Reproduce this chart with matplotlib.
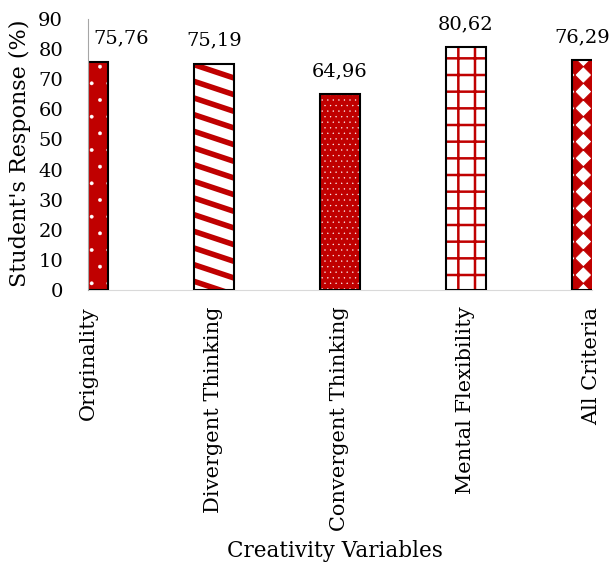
import matplotlib.pyplot as plt
import matplotlib.hatch as mhatch
from matplotlib.path import Path
import numpy as np

# creativity criteria and mean student response (%)
categories = ["Originality", "Divergent Thinking", "Convergent Thinking",
              "Mental Flexibility", "All Criteria"]
values = [75.76, 75.19, 64.96, 80.62, 76.29]
labels = ["75,76", "75,19", "64,96", "80,62", "76,29"]

red = "#c00000"
plt.rcParams['font.family'] = ['DejaVu Serif']


# shallow diagonal stripes, 'z' in the hatch string
class ShallowStripes(mhatch.HatchPatternBase):
    def __init__(self, hatch, density):
        self.n = hatch.count('z') * density
        self.num_lines = self.n + 3 if self.n else 0
        self.num_vertices = self.num_lines * 2

    def set_vertices_and_codes(self, vertices, codes):
        k = 0
        for i in range(self.num_lines):
            vertices[k] = (0.0, i / self.n)
            vertices[k + 1] = (1.0, (i - 2) / self.n)
            codes[k] = Path.MOVETO
            codes[k + 1] = Path.LINETO
            k += 2


# filled diamonds on a rotated checker, 'd' in the hatch string
class Diamonds(mhatch.HatchPatternBase):
    def __init__(self, hatch, density):
        self.n = hatch.count('d') * density
        self.num_shapes = self.n * (self.n + 1) if self.n else 0
        self.num_vertices = self.num_shapes * 5

    def set_vertices_and_codes(self, vertices, codes):
        h = 0.5 / self.n
        k = 0
        for i in range(self.n):
            for j in range(self.n + 1):
                cx, cy = (i + 0.5) / self.n, j / self.n
                pts = [(cx - h, cy), (cx, cy - h), (cx + h, cy), (cx, cy + h), (cx - h, cy)]
                vertices[k:k + 5] = pts
                codes[k:k + 5] = [Path.MOVETO, Path.LINETO, Path.LINETO, Path.LINETO, Path.CLOSEPOLY]
                k += 5


mhatch._hatch_types.extend([ShallowStripes, Diamonds])

fig = plt.figure(figsize=(6.13, 5.7), dpi=100)
ax = fig.add_axes([0.1436, 0.4912, 0.822, 0.4755])

x = np.arange(len(categories))
w = 0.32

# (facecolor, hatch colour, hatch, hatch linewidth)
styles = [
    (red, "white", ".", 0.3),
    ("white", red, "z", 4.0),
    (red, "white", "...", 0.2),
    ("white", red, "+", 1.8),
    ("white", red, "d", 0.5),
]

for xi, v, (fc, hc, h, lw) in zip(x, values, styles):
    with plt.rc_context({'hatch.linewidth': lw}):
        b = ax.bar(xi, v, w, color=fc, edgecolor=hc, hatch=h, linewidth=0, zorder=2)
    for p in b:
        if hasattr(p, "set_hatch_linewidth"):
            p.set_hatch_linewidth(lw)
    ax.bar(xi, v, w, fill=False, edgecolor="black", linewidth=1.5, zorder=3)

offsets = [24, 0, 0, 0, -7]
for xi, v, lab, dx in zip(x, values, labels, offsets):
    ax.annotate(lab, (xi, v), xytext=(dx, 13), textcoords="offset points",
                ha="center", va="baseline", fontsize=14)

ax.set_xlim(0, 4)
ax.set_ylim(0, 90)
ax.set_yticks(range(0, 91, 10))
ax.set_xticks(x)
ax.set_xticklabels(categories, rotation=90, fontsize=15)
ax.tick_params(axis='y', labelsize=14, length=0, pad=18)
ax.tick_params(axis='x', length=0, pad=12)

for s in ["top", "right"]:
    ax.spines[s].set_visible(False)
ax.spines["left"].set_color("#a6a6a6")
ax.spines["bottom"].set_color("#d9d9d9")
ax.spines["left"].set_zorder(4)

fig.text(20 / 613, 1 - 153 / 570, "Student's Response (%)", rotation=90,
         ha="center", va="center", fontsize=16)
fig.text(334.5 / 613, 1 - 557 / 570, "Creativity Variables",
         ha="center", va="baseline", fontsize=15.5)

fig.savefig("out.png", dpi=100)
